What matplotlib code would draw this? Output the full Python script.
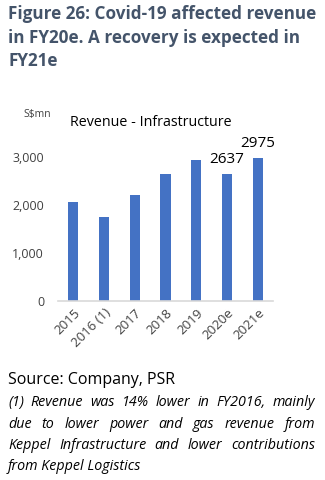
import matplotlib
matplotlib.use("Agg")
import matplotlib.pyplot as plt
import numpy as np

plt.rcParams["font.family"] = ["Open Sans", "DejaVu Sans"]

CATEGORIES = ["2015", "2016 (1)", "2017", "2018", "2019", "2020e", "2021e"]
REVENUE = [2056, 1743, 2202, 2640, 2931, 2637, 2975]
LABELLED = {"2020e": "2637", "2021e": "2975"}
YTICKS = [0, 1000, 2000, 3000]

HEADER = "Figure 26: Covid-19 affected revenue\nin FY20e. A recovery is expected in\nFY21e"
SOURCE = "Source: Company, PSR"
NOTE_LINES = [
    "(1) Revenue was 14% lower in FY2016, mainly",
    "due to lower power and gas revenue from",
    "Keppel Infrastructure and lower contributions",
    "from Keppel Logistics",
]

BAR = "#4472C4"
HEAD = "#44546A"

fig = plt.figure(figsize=(3.25, 4.8), dpi=100)
ax = fig.add_axes([58 / 325, (480 - 300.7) / 480, 215 / 325, 168 / 480])

x = np.arange(len(CATEGORIES))
ax.bar(x, REVENUE, width=0.33, color=BAR, zorder=2)
for xi, cat, v in zip(x, CATEGORIES, REVENUE):
    if cat in LABELLED:
        ax.annotate(LABELLED[cat], (xi, v), xytext=(0, 5), textcoords="offset points",
                    ha="center", va="bottom", fontsize=11, color="black")

ax.set_xlim(-0.5, len(CATEGORIES) - 0.5)
ax.set_ylim(0, 3500)
ax.set_yticks(YTICKS)
ax.set_yticklabels([f"{t:,}" for t in YTICKS], fontsize=9, color="#404040")
ax.set_xticks(x)
ax.set_xticklabels(CATEGORIES, rotation=45, ha="right", rotation_mode="anchor",
                   fontsize=9.5, color="#404040")
ax.tick_params(length=0, pad=4)
ax.tick_params(axis="y", pad=10)
for s in ["top", "right", "left"]:
    ax.spines[s].set_visible(False)
ax.spines["bottom"].set_color("#D9D9D9")
ax.spines["bottom"].set_linewidth(1.2)

fig.text(23 / 325, 1 - 115 / 480, "S$mn", fontsize=7.5, va="center", ha="left", color="#404040")
fig.text(151 / 325, 1 - 122.7 / 480, "Revenue - Infrastructure", fontsize=10.3,
         ha="center", va="center")

fig.text(8 / 325, 1 - 5 / 480, HEADER, fontsize=12.3, fontweight="bold", color=HEAD,
         ha="left", va="top", linespacing=1.4)

fig.text(8 / 325, 1 - 380 / 480, SOURCE, fontsize=11.5, ha="left", va="center")

# justified footnote
fig.canvas.draw()
r = fig.canvas.get_renderer()
left_px, right_px = 8, 315
ys = [402.7, 424, 445.3, 466.5]
FS = 10.3
for i, (line, yp) in enumerate(zip(NOTE_LINES, ys)):
    words = line.split(" ")
    if i == len(NOTE_LINES) - 1:
        fig.text(left_px / 325, 1 - yp / 480, line, fontsize=FS, style="italic",
                 ha="left", va="center")
        continue
    widths = []
    for w in words:
        t = fig.text(0, 0, w, fontsize=FS, style="italic")
        widths.append(t.get_window_extent(renderer=r).width)
        t.remove()
    gap = (right_px - left_px - sum(widths)) / (len(words) - 1)
    xp = left_px
    for w, wd in zip(words, widths):
        fig.text(xp / 325, 1 - yp / 480, w, fontsize=FS, style="italic",
                 ha="left", va="center")
        xp += wd + gap

fig.savefig("out.png", dpi=100)
